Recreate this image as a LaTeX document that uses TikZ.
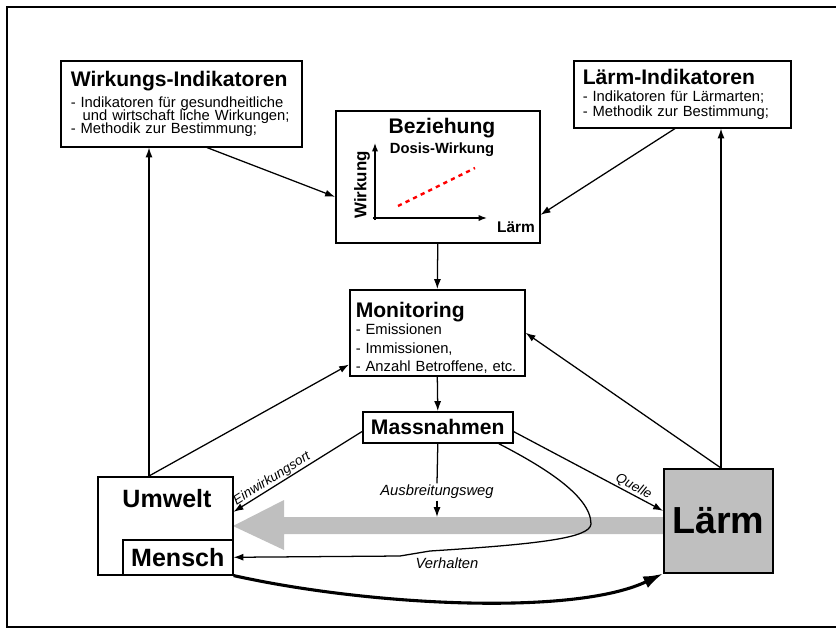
\documentclass[tikz,border=0pt]{standalone}
\usepackage{fontspec}
\setmainfont{Liberation Sans}
\usepackage{tikz}
\usetikzlibrary{arrows.meta,calc}

\newcommand{\kopf}{\fontsize{15}{17}\selectfont\bfseries}
\newcommand{\inhalt}[1]{\fontsize{10.5}{#1}\selectfont\lineskiplimit=-20pt\relax}

\tikzset{
  kasten/.style={draw, line width=1.1pt, anchor=north west, inner sep=0pt},
  textkasten/.style={kasten, align=left, inner ysep=0pt},
  pfeil/.style={line width=0.9pt, -{Latex[length=7pt,width=5pt]}},
  achse/.style={line width=1pt, -{Latex[length=6pt,width=4.5pt]}},
  beschr/.style={font=\fontsize{10.5}{12}\selectfont\itshape, inner sep=1pt},
  schraeg/.style={font=\fontsize{9.5}{11}\selectfont\itshape, inner sep=0.5pt, sloped, above}
}

\begin{document}
\begin{tikzpicture}[x=0.025cm,y=-0.025cm]
\useasboundingbox (0,0) rectangle (836,634);
\draw[line width=2pt] (836,7) -- (7,7) -- (7,627) -- (836,627);

\fill[gray!50] (663,517) -- (284,517) -- (284,500) -- (233,526) -- (284,550) -- (284,534) -- (663,534) -- cycle;

\node[textkasten, inner xsep=0.25cm, text width=5.525cm, minimum height=2.15cm, font=\inhalt{9.2}] (wirk) at (60,60)
  {{\kopf Wirkungs-Indikatoren}\\[6.1pt]
   - Indikatoren für gesundheitliche\\
   \hspace*{8.5pt}und wirtschaft liche Wirkungen;\\
   - Methodik zur Bestimmung;};
\node[textkasten, inner xsep=0.225cm, text width=4.975cm, minimum height=1.675cm, font=\inhalt{10.7}] (laermind) at (573,60)
  {{\kopf Lärm-Indikatoren}\\[1.7pt]
   - Indikatoren für Lärmarten;\\
   - Methodik zur Bestimmung;};
\node[textkasten, inner xsep=0.15cm, text width=4.075cm, minimum height=2.15cm, font=\inhalt{13.2}] (moni) at (349,289)
  {{\kopf\rule{0pt}{18pt}Monitoring}\\[-0.5pt]
   - Emissionen\\
   - Immissionen,\\
   - Anzahl Betroffene, etc.};
\node[kasten, minimum width=3.75cm, minimum height=0.775cm, font=\kopf] (mass) at (362,411) {Massnahmen};

\node[kasten, minimum width=5.1cm, minimum height=3.3cm] (bez) at (335,110) {};
\node[font=\kopf] (beztitel) at (442,128) {Beziehung};
\node[font=\fontsize{10.5}{12}\selectfont\bfseries] (dosis) at (442,150) {Dosis-Wirkung};
\draw[achse] (373,218) -- (487,218);
\draw[achse] (375,220) -- (375,143);
\node[font=\fontsize{12}{14}\selectfont\bfseries, rotate=90] (wirkung) at (362,185) {Wirkung};
\node[font=\fontsize{11}{13}\selectfont\bfseries] (laermachse) at (516,227) {Lärm};
\draw[red, line width=1.7pt, dash pattern=on 3pt off 3pt] (398,206) -- (475,168);

\node[kasten, minimum width=3.375cm, minimum height=2.45cm] (umwelt) at (97,476) {};
\node[font=\fontsize{17.8}{20}\selectfont\bfseries] (umwelttext) at (167,499) {Umwelt};
\node[kasten, minimum width=2.75cm, minimum height=0.875cm, font=\fontsize{17.8}{20}\selectfont\bfseries] (mensch) at (122,539) {Mensch};
\node[kasten, fill=gray!50, minimum width=2.725cm, minimum height=2.6cm, font=\fontsize{26.8}{30}\selectfont\bfseries] (laerm) at (663,468) {Lärm};

\node[beschr] (ausb) at (437,492) {Ausbreitungsweg};
\node[beschr] (verh) at (447,563) {Verhalten};
\coordinate (strom) at (437,517);

\draw[pfeil] ($(umwelt.north west)+(52,0)$) -- ($(wirk.south west)+(89,0)$);
\draw[pfeil] ($(umwelt.north west)+(52,0)$) -- ($(moni.south west)+(0,-12)$);
\draw[pfeil] ($(wirk.south west)+(147,0)$) -- ($(bez.west)+(0,20)$);
\draw[pfeil] ($(laermind.south west)+(102,0)$) -- ($(bez.east)+(0,38)$);
\draw[pfeil] ($(laerm.north west)+(58,0)$) -- ($(laermind.south west)+(148,0)$);
\draw[pfeil] ($(laerm.north west)+(58,0)$) -- (moni.east);
\draw[pfeil] (bez.south) -- (moni.north);
\draw[pfeil] (moni.south) -- (mass.north);
\draw[line width=0.9pt] (mass.south) -- (ausb.north);
\draw[pfeil] (ausb.south) -- (strom);
\draw[pfeil] ($(mass.south west)+(0,-12)$) -- node[schraeg, pos=0.67] (einw) {Einwirkungsort} ($(umwelt.east)+(0,-14)$);
\draw[pfeil] ($(mass.south east)+(0,-12)$) -- node[schraeg, pos=0.78] (quelle) {Quelle} ($(laerm.west)+(0,-10)$);
\draw[pfeil] ($(mass.south east)+(-15,0)$) .. controls (540,465) and (591,495) .. (591,524)
  .. controls (590,538) and (540,544) .. (430,551) -- (400,556) -- (mensch.east);
\draw[line width=2.2pt, -{Latex[length=14pt,width=9pt]}] (mensch.south east) .. controls (370,606) and (575,616) .. (laerm.south west);
\end{tikzpicture}
\end{document}
